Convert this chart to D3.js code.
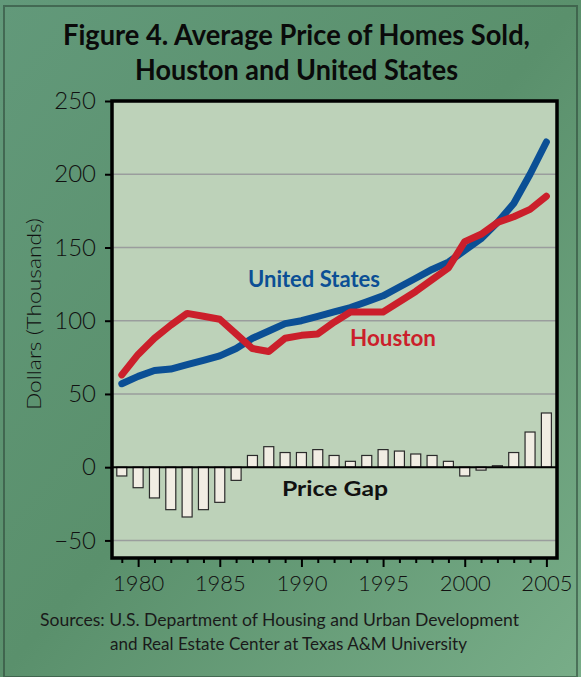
<!DOCTYPE html>
<html>
<head>
<meta charset="utf-8">
<script src="https://cdn.jsdelivr.net/npm/d3@7"></script>
<style>
  html, body { margin: 0; padding: 0; background: #6fa37f; }
  svg { display: block; }
</style>
</head>
<body>
<svg id="chart"></svg>
<script>
const years = d3.range(1979, 2006);

const usPrice = [57, 62, 66, 67, 70, 73, 76, 81, 88, 93, 98, 100, 103, 106, 109, 113, 117,
  123, 129, 135, 140, 148, 156, 167, 180, 200, 222];
const houstonPrice = [63, 77, 88, 97, 105, 103, 101, 91, 81, 79, 88, 90, 91, 99, 106, 106, 106,
  113, 120, 128, 136, 154, 159, 167, 171, 176, 185];
const priceGap = [-6, -14, -21, -29, -34, -29, -24, -9, 8, 14, 10, 10, 12, 8, 4, 8, 12,
  11, 9, 8, 4, -6, -2, 1, 10, 24, 37];

const yTicks = [-50, 0, 50, 100, 150, 200, 250];
const xLabels = [1980, 1985, 1990, 1995, 2000, 2005];

const W = 581, H = 677;
const svg = d3.select('#chart').attr('width', W).attr('height', H);

// background
const defs = svg.append('defs');
const bg = defs.append('linearGradient').attr('id', 'bg')
  .attr('x1', 0).attr('y1', 0).attr('x2', 1).attr('y2', 1);
bg.append('stop').attr('offset', 0).attr('stop-color', '#62997a');
bg.append('stop').attr('offset', 0.5).attr('stop-color', '#5a906c');
bg.append('stop').attr('offset', 1).attr('stop-color', '#78ad88');
svg.append('rect').attr('width', W).attr('height', H).attr('fill', 'url(#bg)');
svg.append('rect').attr('x', 4).attr('y', 6).attr('width', W - 8).attr('height', H - 6)
  .attr('fill', 'none').attr('stroke', '#2f4a3a').attr('stroke-width', 2).attr('opacity', 0.6);

const pLeft = 112, pRight = 557, pTop = 101, pBottom = 558;

const x = d3.scaleLinear().domain([1978.4, 2005.65]).range([pLeft, pRight]);
const y = d3.scaleLinear().domain([-62, 250]).range([pBottom, pTop]);

// plot area
svg.append('rect')
  .attr('x', pLeft).attr('y', pTop).attr('width', pRight - pLeft).attr('height', pBottom - pTop)
  .attr('fill', '#bdd2b9');

// gridlines
svg.append('g').selectAll('line').data(yTicks.filter(d => d !== 0 && d !== 250)).join('line')
  .attr('x1', pLeft).attr('x2', pRight)
  .attr('y1', d => y(d)).attr('y2', d => y(d))
  .attr('stroke', '#9a9d9d').attr('stroke-width', 1.5);

// price gap bars
const barW = 10;
svg.append('g').selectAll('rect').data(years).join('rect')
  .attr('x', d => x(d) - barW / 2)
  .attr('y', (d, i) => y(Math.max(0, priceGap[i])))
  .attr('width', barW)
  .attr('height', (d, i) => Math.abs(y(priceGap[i]) - y(0)))
  .attr('fill', '#f1ede3').attr('stroke', '#2b2b2b').attr('stroke-width', 1.2);

// zero line
svg.append('line').attr('x1', pLeft).attr('x2', pRight).attr('y1', y(0)).attr('y2', y(0))
  .attr('stroke', '#000').attr('stroke-width', 2);

// lines
const line = d3.line().x((d, i) => x(years[i])).y(d => y(d));
svg.append('path').datum(usPrice).attr('d', line)
  .attr('fill', 'none').attr('stroke', '#0b4f95').attr('stroke-width', 7)
  .attr('stroke-linecap', 'round').attr('stroke-linejoin', 'round');
svg.append('path').datum(houstonPrice).attr('d', line)
  .attr('fill', 'none').attr('stroke', '#cb1f2b').attr('stroke-width', 7)
  .attr('stroke-linecap', 'round').attr('stroke-linejoin', 'round');

// frame
svg.append('rect')
  .attr('x', pLeft).attr('y', pTop).attr('width', pRight - pLeft).attr('height', pBottom - pTop)
  .attr('fill', 'none').attr('stroke', '#000').attr('stroke-width', 3.5);

// y axis
const yAxis = svg.append('g').attr('transform', `translate(${pLeft},0)`)
  .call(d3.axisLeft(y).tickValues(yTicks).tickSize(7).tickPadding(9)
    .tickFormat(d => d < 0 ? '\u2212' + Math.abs(d) : d));
yAxis.select('.domain').remove();
yAxis.selectAll('line').attr('stroke', '#000').attr('stroke-width', 2);
yAxis.selectAll('text').attr('font-family', 'Lato, sans-serif').attr('font-weight', 300)
  .attr('font-size', 24).attr('fill', '#111');

// x axis
const xAxis = svg.append('g').attr('transform', `translate(0,${pBottom})`)
  .call(d3.axisBottom(x).tickValues(years).tickSize(5).tickPadding(8)
    .tickFormat(d => xLabels.includes(d) ? d : ''));
xAxis.select('.domain').remove();
xAxis.selectAll('line').attr('stroke', '#000').attr('stroke-width', 2)
  .attr('y2', d => xLabels.includes(d) ? 9 : 5);
xAxis.selectAll('text').attr('font-family', 'Lato, sans-serif').attr('font-weight', 300)
  .attr('font-size', 22).attr('fill', '#111').attr('dy', '0.9em');

// title
const title = svg.append('g').attr('font-family', 'Lato, sans-serif').attr('font-weight', 'bold')
  .attr('font-size', 28).attr('fill', '#0a0a0a').attr('text-anchor', 'middle');
title.append('text').attr('x', 296.5).attr('y', 45)
  .attr('textLength', 467).attr('lengthAdjust', 'spacingAndGlyphs')
  .text('Figure 4. Average Price of Homes Sold,');
title.append('text').attr('x', 296.5).attr('y', 80)
  .attr('textLength', 323).attr('lengthAdjust', 'spacingAndGlyphs')
  .text('Houston and United States');

// y label
svg.append('text')
  .attr('transform', 'translate(41,314) rotate(-90)')
  .attr('text-anchor', 'middle')
  .attr('font-family', 'Lato, sans-serif').attr('font-weight', 300).attr('font-size', 19)
  .attr('fill', '#111').attr('textLength', 192).attr('lengthAdjust', 'spacingAndGlyphs')
  .text('Dollars (Thousands)');

// series labels
svg.append('text').attr('x', 248).attr('y', 287)
  .attr('font-family', 'Lato, sans-serif').attr('font-weight', 'bold').attr('font-size', 22)
  .attr('fill', '#0b4f95').attr('textLength', 132).attr('lengthAdjust', 'spacingAndGlyphs')
  .text('United States');
svg.append('text').attr('x', 350).attr('y', 346)
  .attr('font-family', 'Lato, sans-serif').attr('font-weight', 'bold').attr('font-size', 22)
  .attr('fill', '#cb1f2b').attr('textLength', 86).attr('lengthAdjust', 'spacingAndGlyphs')
  .text('Houston');
svg.append('text').attr('x', 282).attr('y', 496)
  .attr('font-family', 'Lato, sans-serif').attr('font-weight', 'bold').attr('font-size', 21)
  .attr('fill', '#111').attr('textLength', 106).attr('lengthAdjust', 'spacingAndGlyphs')
  .text('Price Gap');

// sources
const src = svg.append('g').attr('font-family', 'Lato, sans-serif').attr('font-size', 17)
  .attr('fill', '#1a1a1a');
src.append('text').attr('x', 40).attr('y', 626)
  .attr('textLength', 479).attr('lengthAdjust', 'spacingAndGlyphs')
  .text('Sources: U.S. Department of Housing and Urban Development');
src.append('text').attr('x', 110).attr('y', 650)
  .attr('textLength', 357).attr('lengthAdjust', 'spacingAndGlyphs')
  .text('and Real Estate Center at Texas A&M University');
</script>
</body>
</html>
